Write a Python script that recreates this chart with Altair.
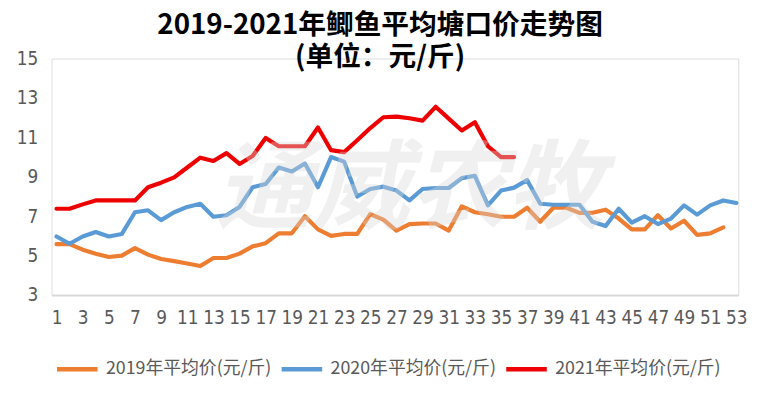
import altair as alt
import pandas as pd

weeks_2019 = list(range(1, 53))
price_2019 = [5.58, 5.58, 5.3, 5.1, 4.93, 5.0, 5.38, 5.05, 4.83, 4.72,
              4.6, 4.47, 4.88, 4.88, 5.1, 5.47, 5.63, 6.13, 6.13, 7.0,
              6.33, 6.0, 6.1, 6.1, 7.1, 6.83, 6.27, 6.6, 6.63, 6.63,
              6.27, 7.5, 7.2, 7.1, 6.97, 6.97, 7.43, 6.72, 7.43, 7.43,
              7.17, 7.17, 7.33, 6.88, 6.33, 6.33, 7.05, 6.38, 6.77, 6.05,
              6.13, 6.43]

weeks_2020 = list(range(1, 54))
price_2020 = [5.97, 5.6, 5.97, 6.2, 5.97, 6.1, 7.2, 7.3, 6.8, 7.2,
              7.47, 7.63, 6.97, 7.05, 7.47, 8.47, 8.63, 9.47, 9.27, 9.67,
              8.47, 10.0, 9.77, 8.0, 8.38, 8.5, 8.3, 7.8, 8.38, 8.43,
              8.43, 8.93, 9.05, 7.55, 8.3, 8.45, 8.83, 7.63, 7.58, 7.58,
              7.58, 6.72, 6.5, 7.38, 6.67, 7.0, 6.6, 6.88, 7.55, 7.08,
              7.55, 7.8, 7.67]

weeks_2021 = list(range(1, 37))
price_2021 = [7.38, 7.38, 7.6, 7.8, 7.8, 7.8, 7.8, 8.47, 8.7, 8.97,
              9.47, 9.97, 9.8, 10.2, 9.65, 10.05, 10.97, 10.55, 10.55, 10.55,
              11.5, 10.35, 10.25, 10.85, 11.47, 12.02, 12.05, 11.97, 11.85, 12.55,
              11.95, 11.35, 11.77, 10.55, 10.0, 10.0]

series_names = ["2019年平均价(元/斤)", "2020年平均价(元/斤)", "2021年平均价(元/斤)"]
series_colors = ["#ED7D31", "#5B9BD5", "#EE0000"]

x_ticks = list(range(1, 54, 2))
y_ticks = [3, 5, 7, 9, 11, 13, 15]

title_lines = ["2019-2021年鲫鱼平均塘口价走势图", "(单位：元/斤)"]
watermark = "通威农牧"

rows = []
for name, wk, pr in zip(series_names, [weeks_2019, weeks_2020, weeks_2021],
                        [price_2019, price_2020, price_2021]):
    for w, p in zip(wk, pr):
        rows.append({"series": name, "week": w, "price": p})
df = pd.DataFrame(rows)

num_font = "Liberation Sans Narrow, DejaVu Sans Condensed, Noto Sans CJK SC, sans-serif"
cjk_font = "Noto Sans CJK SC"

lines = alt.Chart(df).mark_line(strokeWidth=4.2, strokeJoin="round", strokeCap="round").encode(
    x=alt.X("week:Q",
            scale=alt.Scale(domain=[0.62, 53.15], nice=False, zero=False),
            axis=alt.Axis(values=x_ticks, title=None, grid=False, ticks=False,
                          domain=True, domainColor="#d9d9d9", domainWidth=2,
                          labelFont=num_font, labelFontSize=19, labelColor="#595959",
                          labelPadding=14, labelFlush=False)),
    y=alt.Y("price:Q",
            scale=alt.Scale(domain=[3, 15], nice=False, zero=False),
            axis=alt.Axis(values=y_ticks, title=None, grid=False, ticks=False,
                          domain=False, labelFont=num_font, labelFontSize=19,
                          labelColor="#595959", labelPadding=14)),
    color=alt.Color("series:N",
                    scale=alt.Scale(domain=series_names, range=series_colors),
                    legend=alt.Legend(title=None, orient="none", direction="horizontal",
                                      legendX=3, legendY=291,
                                      symbolType="stroke", symbolSize=1681,
                                      symbolStrokeWidth=4.5,
                                      labelFont=cjk_font, labelFontSize=18,
                                      labelColor="#595959", labelOffset=6,
                                      columnPadding=0, labelLimit=300)),
    order="week:Q",
)

wm = alt.Chart(pd.DataFrame({"t": [watermark]})).mark_text(
    font=cjk_font, fontWeight="bold", fontStyle="italic", fontSize=98,
    color="#d8d8d8", opacity=0.38, align="center", baseline="middle",
).encode(text="t:N", x=alt.value(362), y=alt.value(135))

chart = alt.layer(lines, wm).properties(
    width=694, height=239,
    autosize=alt.AutoSizeParams(type="none"),
    padding={"left": 44, "top": 49, "right": 29, "bottom": 103},
    title=alt.TitleParams(text=title_lines, font=cjk_font, fontSize=28, fontWeight="bold",
                          color="#000000", anchor="middle", lineHeight=33, offset=-23, dx=-15),
).configure_view(stroke=None).configure(background="white")

chart.save("out.html", embed_options={"renderer": "svg", "actions": False})
